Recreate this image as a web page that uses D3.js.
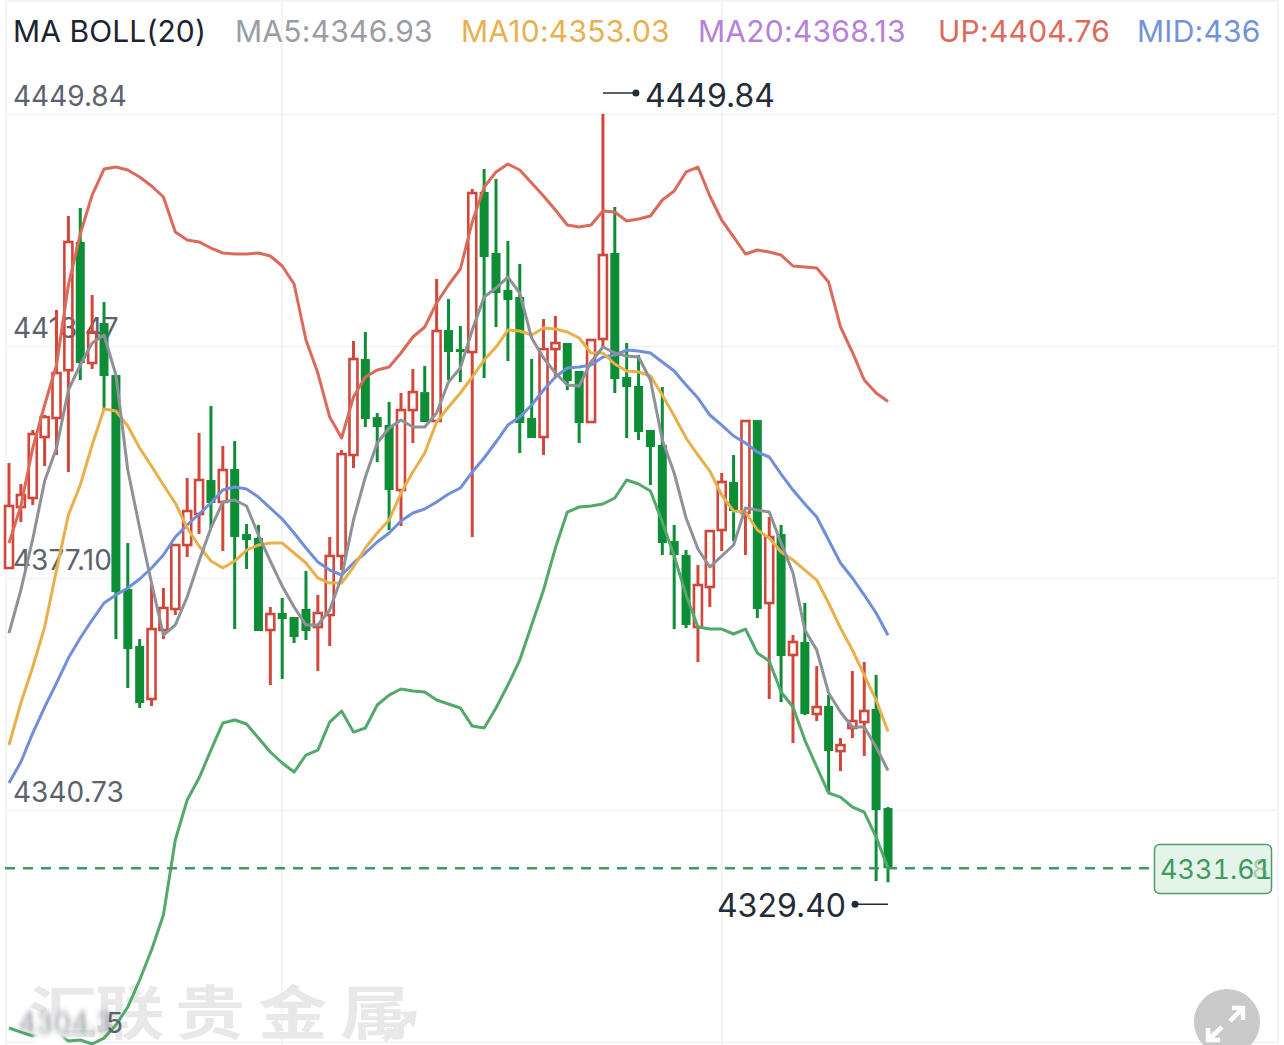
<!DOCTYPE html>
<html><head><meta charset="utf-8">
<script src="https://cdn.jsdelivr.net/npm/d3@7/dist/d3.min.js"></script>
<style>html,body{margin:0;padding:0;background:#fff;overflow:hidden}svg{display:block}text{font-family:Inter,Roboto,sans-serif}</style>
</head><body><div id="c"></div>
<script>
const opens=[4378.67,4388.23,4389.64,4399.20,4402.18,4409.68,4429.78,4410.80,4417.07,4408.92,4375.37,4366.44,4358.13,4368.95,4372.24,4382.27,4387.13,4392.46,4389.02,4394.18,4383.99,4383.37,4368.95,4371.61,4370.98,4372.24,4369.41,4371.30,4380.55,4396.38,4411.43,4402.33,4401.08,4390.89,4403.43,4406.25,4401.71,4415.97,4412.99,4412.52,4437.61,4428.05,4422.25,4421.15,4402.18,4399.20,4412.99,4413.94,4409.55,4401.55,4414.57,4428.05,4408.61,4407.20,4400.30,4397.95,4382.89,4380.70,4369.41,4375.69,4384.62,4392.15,4387.29,4401.86,4373.18,4383.99,4365.03,4367.06,4355.78,4357.03,4349.97,4353.58,4354.52,4356.56,4341.04];
const closes=[4388.39,4390.11,4399.67,4402.33,4409.23,4429.78,4410.80,4415.66,4408.76,4374.90,4365.97,4357.50,4369.10,4372.40,4382.27,4387.60,4392.46,4388.86,4394.03,4383.53,4383.05,4368.79,4371.45,4370.67,4367.85,4368.79,4371.61,4380.55,4396.53,4411.43,4402.02,4400.77,4390.89,4403.43,4406.25,4401.55,4415.82,4412.52,4412.68,4437.45,4427.42,4421.78,4420.68,4401.39,4399.04,4412.99,4413.94,4407.98,4401.39,4414.41,4427.73,4408.29,4407.04,4399.98,4397.63,4382.58,4380.70,4369.73,4376.00,4384.46,4392.15,4387.60,4401.71,4372.24,4383.53,4364.87,4367.06,4355.78,4356.87,4349.97,4350.91,4354.68,4356.25,4340.73,4331.61];
const highs=[4395.12,4391.84,4400.30,4402.65,4419.11,4433.85,4435.11,4421.46,4420.37,4408.92,4382.58,4367.53,4376.31,4375.53,4382.27,4392.77,4399.83,4404.06,4397.79,4398.57,4385.56,4385.41,4372.55,4373.96,4370.98,4378.19,4374.43,4383.53,4397.16,4414.25,4415.66,4402.96,4404.69,4406.10,4409.86,4410.33,4423.97,4420.83,4416.60,4438.08,4441.21,4439.65,4429.93,4426.32,4411.43,4417.70,4418.17,4413.94,4409.55,4414.41,4449.84,4435.26,4413.94,4412.06,4400.30,4407.04,4385.41,4381.48,4379.13,4384.62,4393.56,4396.38,4401.71,4401.86,4386.66,4385.41,4368.16,4373.18,4363.30,4358.75,4352.01,4362.52,4363.93,4361.89,4341.20];
const lows=[4378.67,4385.88,4388.55,4394.65,4396.38,4393.71,4408.14,4409.86,4403.43,4367.53,4359.85,4356.72,4357.03,4367.53,4371.30,4380.39,4383.99,4384.94,4381.33,4369.10,4378.51,4368.79,4360.32,4361.26,4366.91,4367.38,4362.52,4366.44,4378.35,4394.34,4400.77,4395.28,4384.62,4385.25,4398.26,4401.55,4401.71,4408.14,4407.83,4383.53,4408.45,4416.45,4411.11,4396.69,4399.04,4396.38,4408.61,4406.57,4398.26,4401.55,4413.31,4406.10,4399.04,4398.73,4391.68,4380.70,4369.10,4369.26,4363.93,4372.55,4381.33,4382.89,4380.70,4370.83,4358.13,4357.66,4351.23,4355.62,4354.68,4343.55,4346.84,4352.01,4349.20,4329.59,4329.40];
const ma5=[4368.47,4375.22,4383.21,4392.30,4397.48,4406.57,4410.49,4413.94,4415.19,4408.92,4394.03,4384.94,4376.31,4368.16,4369.73,4374.12,4379.76,4384.94,4389.02,4389.33,4388.39,4383.84,4379.76,4375.84,4372.55,4369.73,4369.73,4372.08,4377.25,4386.19,4392.93,4398.26,4400.61,4401.86,4400.77,4400.77,4402.96,4407.83,4410.02,4415.97,4421.15,4422.56,4424.28,4421.78,4414.72,4411.59,4409.23,4407.35,4407.20,4410.96,4413.31,4412.37,4411.90,4411.74,4408.14,4398.73,4393.56,4386.50,4381.64,4378.82,4380.55,4382.27,4388.07,4387.76,4387.44,4382.58,4377.88,4368.95,4365.81,4359.07,4356.09,4353.74,4353.74,4350.60,4346.93];
const ma10=[4350.92,4357.50,4363.14,4369.41,4378.35,4386.97,4391.68,4397.95,4403.59,4403.28,4400.93,4397.48,4394.65,4391.68,4388.86,4384.94,4382.11,4379.76,4378.67,4379.76,4381.48,4382.27,4382.58,4382.58,4381.02,4379.45,4377.10,4376.31,4376.31,4378.82,4381.80,4384.15,4386.19,4390.42,4393.71,4396.69,4401.55,4403.90,4406.10,4408.61,4411.27,4413.31,4415.97,4415.82,4415.19,4416.29,4416.13,4415.66,4414.72,4412.37,4412.37,4410.65,4409.55,4409.39,4408.76,4405.78,4402.49,4399.04,4396.38,4393.87,4390.11,4387.60,4387.44,4384.62,4383.37,4381.17,4379.92,4378.35,4376.78,4373.18,4369.26,4365.81,4361.89,4357.97,4353.03];
const mid=[4344.96,4348.25,4352.79,4356.87,4360.63,4364.55,4367.69,4370.51,4373.18,4374.43,4375.53,4376.94,4378.67,4380.70,4383.53,4385.41,4387.13,4388.86,4390.89,4391.36,4391.05,4389.79,4388.07,4386.35,4384.15,4381.80,4379.60,4378.35,4377.57,4379.45,4381.02,4382.74,4384.15,4386.03,4387.29,4387.91,4389.02,4390.27,4391.21,4393.71,4395.91,4398.42,4401.08,4402.33,4404.22,4406.57,4408.61,4410.02,4410.17,4410.49,4411.74,4412.06,4412.84,4412.68,4412.37,4410.96,4409.55,4407.35,4405.31,4402.65,4401.08,4399.36,4398.26,4396.85,4396.07,4393.40,4390.89,4388.70,4386.66,4383.05,4379.45,4377.10,4374.43,4371.61,4368.13];
const up=[4382.58,4388.39,4397.48,4404.22,4410.49,4423.03,4431.03,4437.14,4441.21,4441.53,4441.06,4439.96,4438.55,4436.83,4431.34,4430.08,4429.78,4428.83,4428.05,4427.89,4427.89,4428.05,4427.58,4426.01,4423.19,4414.41,4409.23,4402.33,4399.04,4405.47,4408.61,4409.70,4410.17,4412.37,4414.88,4416.45,4420.21,4423.03,4425.54,4432.91,4438.39,4440.75,4442.00,4441.06,4439.02,4436.98,4434.79,4432.44,4432.12,4432.44,4434.63,4434.47,4433.06,4433.38,4433.85,4436.36,4437.77,4440.75,4441.53,4436.98,4433.22,4430.56,4427.89,4428.52,4428.20,4427.73,4426.01,4425.85,4425.70,4423.50,4416.45,4412.52,4408.14,4406.10,4404.76];
const dn=[4306.55,4305.92,4305.30,4305.61,4305.77,4304.52,4304.67,4304.05,4304.98,4307.02,4309.84,4314.08,4318.78,4324.27,4336.02,4342.29,4345.74,4350.12,4354.37,4354.84,4354.21,4352.01,4349.82,4348.10,4346.68,4349.35,4350.12,4354.52,4356.25,4352.95,4353.58,4357.19,4358.75,4359.70,4359.38,4359.22,4357.97,4357.35,4356.72,4353.89,4353.58,4356.72,4360.32,4364.24,4369.73,4375.22,4381.80,4387.44,4388.23,4388.39,4388.70,4389.64,4392.46,4391.84,4390.74,4385.88,4380.55,4374.43,4369.41,4369.10,4369.10,4368.32,4369.10,4365.34,4364.09,4359.22,4356.87,4351.70,4347.47,4343.39,4342.76,4341.20,4340.41,4336.49,4331.61];
const axisTicks=[4449.84,4413.47,4377.10,4340.73,4304.36];
const axisLabels=["4449.84","4413.47","4377.10","4340.73"];
const blurredLabel="4304.3", clearDigit="5";
const title="MA BOLL(20)";
const legendLabels=["MA5:4346.93","MA10:4353.03","MA20:4368.13","UP:4404.76","MID:436"];
const lastPrice=4331.61, highPrice=4449.84, lowPrice=4329.40;
const watermarkChars=["汇","联","贵","金","属"];

const W=1284,H=1045;
const RED="#d2473b",GREEN="#0f8d36";
const svg=d3.select("#c").append("svg").attr("width",W).attr("height",H);
const defs=svg.append("defs");
defs.append("filter").attr("id","blur").attr("x","-20%").attr("y","-60%").attr("width","140%").attr("height","220%")
  .append("feGaussianBlur").attr("stdDeviation","2.2 3.5");
defs.append("filter").attr("id","soft").attr("x","-5%").attr("y","-5%").attr("width","110%").attr("height","110%")
  .append("feGaussianBlur").attr("stdDeviation","0.4");
const x=d3.scaleLinear().domain([0,opens.length-1]).range([9,888]);
const y=d3.scaleLinear().domain([4449.84,4304.36]).range([114,1042]);

// grid
const grid=svg.append("g").attr("stroke","#f1f1f3").attr("stroke-width",1.5);
grid.selectAll("line.h").data([null,...axisTicks]).join("line").attr("class","h").attr("x1",6).attr("x2",1278)
  .attr("y1",d=>d===null?1:y(d)+.5).attr("y2",d=>d===null?1:y(d)+.5);
grid.selectAll("line.v").data([6,282,722,1278]).join("line").attr("class","v").attr("x1",d=>d).attr("x2",d=>d).attr("y1",1).attr("y2",H);

// watermark
const wmX=[28,95,175,258,340];
const wm=svg.append("g").attr("fill","#e8e8e9");
wm.selectAll("text").data(watermarkChars).join("text").text(d=>d)
  .attr("transform",(d,i)=>`translate(${wmX[i]},1034) scale(1.2,1)`).attr("font-size",58)
  .style("font-family","'Noto Sans CJK SC'").attr("font-weight",700);
wm.append("path").attr("d",d3.line()([[384,1040],[414,1014]])).attr("stroke","#e8e8e9").attr("stroke-width",6).attr("fill","none");
wm.append("path").attr("d",d3.line()([[400,1012],[417,1011],[414,1028]])).attr("fill","#e8e8e9");

// axis labels
svg.append("g").selectAll("text").data(axisLabels).join("text").text(d=>d)
  .attr("x",13).attr("y",(d,i)=>y(axisTicks[i])-8).attr("font-size",28).attr("fill","#5b626e");

// title + legend
svg.append("text").text(title).attr("x",13).attr("y",42).attr("font-size",30).attr("fill","#1d2330").attr("letter-spacing",.1);
const legendX=[235,461,698,938,1137],legendC=["#9a9da6","#e8b04f","#b681d6","#dc6a5a","#7293d9"];
svg.append("g").selectAll("text").data(legendLabels).join("text").text(d=>d)
  .attr("x",(d,i)=>legendX[i]).attr("y",42).attr("font-size",30).attr("letter-spacing",.25).attr("fill",(d,i)=>legendC[i]);

// chart body
const chart=svg.append("g").attr("filter","url(#soft)");
const idx=d3.range(opens.length);
const isUp=i=>closes[i]>=opens[i];
const col=i=>isUp(i)?RED:GREEN;
const topV=i=>Math.max(opens[i],closes[i]), botV=i=>Math.min(opens[i],closes[i]);
const c=chart.append("g");
c.selectAll("line.hi").data(idx).join("line").attr("class","hi")
  .attr("x1",i=>x(i)).attr("x2",i=>x(i)).attr("y1",i=>y(highs[i])).attr("y2",i=>y(topV(i)))
  .attr("stroke",col).attr("stroke-width",3);
c.selectAll("line.lo").data(idx).join("line").attr("class","lo")
  .attr("x1",i=>x(i)).attr("x2",i=>x(i)).attr("y1",i=>y(botV(i))).attr("y2",i=>y(lows[i]))
  .attr("stroke",col).attr("stroke-width",3);
c.selectAll("rect.b").data(idx).join("rect").attr("class","b")
  .attr("x",i=>x(i)-(isUp(i)?4:4.5)).attr("width",i=>isUp(i)?8:9)
  .attr("y",i=>y(topV(i)))
  .attr("height",i=>Math.max(3,y(botV(i))-y(topV(i))))
  .attr("fill",i=>isUp(i)?"none":GREEN).attr("stroke",i=>isUp(i)?RED:"none").attr("stroke-width",2.6);

const line=d3.line().x((d,i)=>x(i)).y(d=>y(d));
[[up,"#dc6a5a"],[dn,"#52a96b"],[mid,"#6f8fda"],[ma10,"#e9b04a"],[ma5,"#8f9199"]].forEach(([s,k])=>{
  chart.append("path").attr("d",line(s)).attr("fill","none").attr("stroke",k).attr("stroke-width",3).attr("stroke-linejoin","round");
});

// blurred bottom label
svg.append("rect").attr("x",34).attr("y",1014).attr("width",30).attr("height",33).attr("fill","#fff").attr("filter","url(#blur)");
svg.append("text").text(blurredLabel).attr("x",18).attr("y",1033).attr("font-size",28).attr("fill","#5b626e").attr("opacity",.7).attr("filter","url(#blur)");
svg.append("text").text(clearDigit).attr("x",106).attr("y",1033).attr("font-size",28).attr("fill","#5b626e");

// last price line + tag
svg.append("line").attr("x1",5).attr("x2",1154).attr("y1",y(lastPrice)).attr("y2",y(lastPrice))
  .attr("stroke","#3f9a60").attr("stroke-width",2.6).attr("stroke-dasharray","10 8");
svg.append("rect").attr("x",1154.5).attr("y",844.5).attr("width",117).attr("height",49).attr("rx",5)
  .attr("fill","#e4f4e9").attr("stroke","#4f9d69").attr("stroke-width",1.5);
svg.append("text").text("8").attr("x",1252).attr("y",879).attr("font-size",27).attr("fill","#a9cdb6");
svg.append("text").text(lastPrice.toFixed(2)).attr("x",1160).attr("y",879).attr("font-size",27).attr("fill","#3f9a60").style("font-variant-numeric","tabular-nums");

// high / low callouts
const callC="#232a38";
const hx=x(highs.indexOf(highPrice)),lx=x(lows.indexOf(lowPrice));
const hy=y(highPrice)-21,ly=y(lowPrice)+22;
svg.append("line").attr("x1",hx).attr("x2",hx+33).attr("y1",hy).attr("y2",hy).attr("stroke",callC).attr("stroke-width",1.6);
svg.append("circle").attr("cx",hx+33).attr("cy",hy).attr("r",3.5).attr("fill",callC);
svg.append("text").text(highPrice.toFixed(2)).attr("x",hx+42).attr("y",hy+14).attr("font-size",32).attr("fill",callC);
svg.append("line").attr("x1",lx-33).attr("x2",lx).attr("y1",ly).attr("y2",ly).attr("stroke",callC).attr("stroke-width",1.6);
svg.append("circle").attr("cx",lx-33).attr("cy",ly).attr("r",3.5).attr("fill",callC);
svg.append("text").text(lowPrice.toFixed(2)).attr("x",lx-42).attr("y",ly+13).attr("text-anchor","end").attr("font-size",32).attr("fill",callC);

// fullscreen button
svg.append("circle").attr("cx",1227).attr("cy",1022).attr("r",33).attr("fill","#c9c9c9");
const ar=svg.append("g").attr("fill","none").attr("stroke","#fff").attr("stroke-width",4.5);
ar.append("path").attr("d",d3.line()([[1232,1008],[1243,1008],[1243,1020]]));
ar.append("path").attr("d",d3.line()([[1243,1008],[1230,1021]]));
ar.append("path").attr("d",d3.line()([[1208,1028],[1208,1040],[1220,1040]]));
ar.append("path").attr("d",d3.line()([[1208,1040],[1222,1027]]));
</script></body></html>
